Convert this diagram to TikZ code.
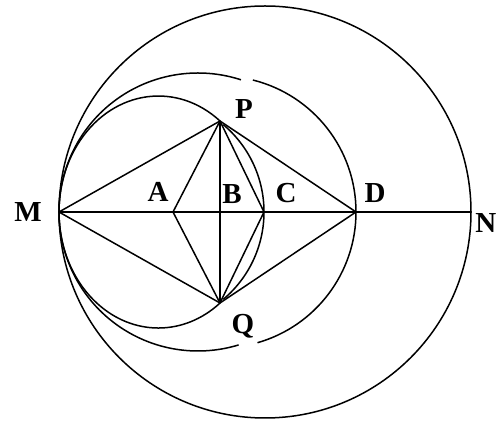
\documentclass[tikz,border=0pt]{standalone}
\usepackage{fontspec}
\setmainfont{Liberation Serif}

\begin{document}
\begin{tikzpicture}[
    x=1pt, y=1pt,
    every path/.style={line width=1.5pt, line join=round},
    lbl/.style={font=\fontsize{29}{29}\selectfont\bfseries, inner sep=0pt}
]
\useasboundingbox (0,0) rectangle (497,422);

\coordinate (O) at (265,210);
\coordinate (M) at (59,210);
\coordinate (N) at (471,210);
\coordinate (A) at (173,210);
\coordinate (B) at (220,210);
\coordinate (C) at (264,210);
\coordinate (D) at (356,210);
\coordinate (P) at (220,301);
\coordinate (Q) at (220,119);

\draw (O) circle[radius=206];
\draw (M) -- (N);
\draw (M) -- (P) -- (D) -- (Q) -- cycle;
\draw (A) -- (P) -- (C) -- (Q) -- cycle;
\draw (P) -- (Q);

\draw (P) arc[start angle=51.7, end angle=308.3, x radius=99.4, y radius=116];
\draw (M) arc[start angle=180, end angle=72, radius=139];
\draw (M) arc[start angle=180, end angle=287, radius=139];
\draw (D) arc[start angle=0, end angle=76, radius=136];
\draw (D) arc[start angle=0, end angle=-74, radius=136];
\draw (C) arc[start angle=0, end angle=50, radius=114];
\draw (C) arc[start angle=0, end angle=-50, radius=114];

\node[lbl] (lM) at (28,210) {M};
\node[lbl, anchor=east] (lN) at (497,199) {N};
\node[lbl] (lP) at (244,313) {P};
\node[lbl] (lA) at (158,230) {A};
\node[lbl] (lB) at (232,228) {B};
\node[lbl] (lC) at (286,229) {C};
\node[lbl] (lD) at (375,229) {D};
\node[lbl] (lQ) at (243,96) {Q};

\end{tikzpicture}
\end{document}
